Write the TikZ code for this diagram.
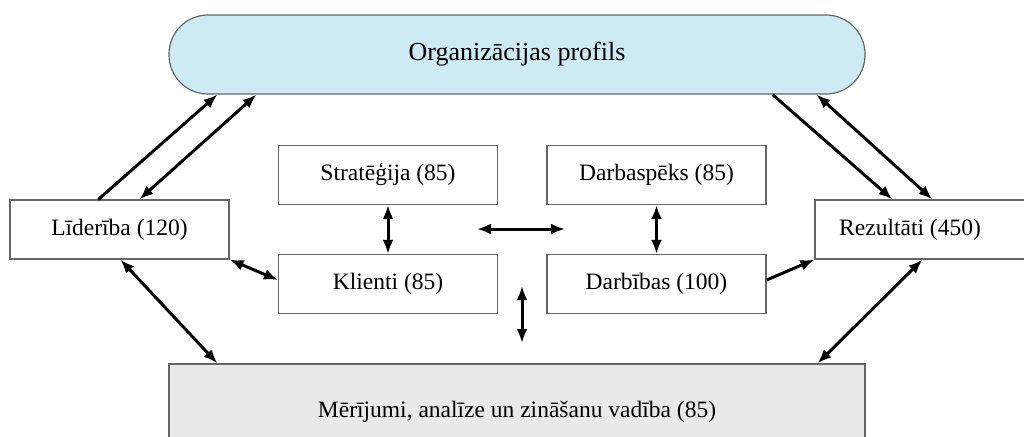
\documentclass[tikz,border=0pt]{standalone}
\usepackage{fontspec}
\setmainfont{Liberation Serif}
\usetikzlibrary{arrows.meta,positioning,calc}

\definecolor{profblue}{RGB}{206,234,245}
\definecolor{measgray}{RGB}{232,233,233}

\begin{document}
\begin{tikzpicture}[
  x=1pt, y=-1pt,
  box/.style={draw=black!60, line width=1.2pt, minimum width=219pt, minimum height=59pt,
              inner sep=0pt, font=\fontsize{23.5}{27}\selectfont},
  profile/.style={box, fill=profblue, rounded corners=39pt, minimum width=696pt, minimum height=79pt,
              font=\fontsize{26}{30}\selectfont},
  meas/.style={box, fill=measgray, minimum width=696pt, minimum height=96pt},
  arr/.style={-{Latex[length=14pt,width=11pt]}, line width=3pt},
  darr/.style={{Latex[length=14pt,width=11pt]}-{Latex[length=14pt,width=11pt]}, line width=3pt},
]
\useasboundingbox (0,0) rectangle (1024,436);

% ---------- Top and bottom bands ----------
\node[profile] (prof) at (517,54.5) {Organizācijas profils};
\node[meas] (meas) at (517,412) {Mērījumi, analīze un zināšanu vadība (85)};

% ---------- Side boxes ----------
\node[box] (lead) at (119.5,229.5) {Līderība (120)};
\node[box, minimum width=230pt] (res) at (930,229.5) {};
\node[font=\fontsize{23.5}{27}\selectfont] (restxt) at (910,229.5) {Rezultāti (450)};

% ---------- Centre boxes ----------
\node[box] (strat) at (388,175) {Stratēģija (85)};
\node[box] (cli) at (388,284) {Klienti (85)};
\node[box] (work) at (656.5,175) {Darbaspēks (85)};
\node[box] (ops) at (656.5,284) {Darbības (100)};

% free arrows in the middle
\coordinate (hl) at (477,229);
\coordinate (hr) at (565,229);
\coordinate (vt) at (522,286);
\coordinate (vb) at (522,343);

% ---------- Connectors ----------
\draw[arr] ([xshift=89pt]lead.north west) -- ([xshift=49pt]prof.south west);
\draw[darr] ([xshift=88pt]prof.south west) -- ([xshift=130pt]lead.north west);
\draw[arr] ([xshift=-93pt]prof.south east) -- ([xshift=78pt]res.north west);
\draw[darr] ([xshift=-49pt]prof.south east) -- ([xshift=118pt]res.north west);

\draw[darr] ([xshift=111pt]lead.south west) -- ([xshift=49pt]meas.north west);
\draw[darr] (lead.south east) -- ([yshift=4pt]cli.west);
\draw[arr] ([yshift=4pt]ops.east) -- (res.south west);
\draw[darr] ([xshift=108pt]res.south west) -- ([xshift=-48pt]meas.north east);

\draw[darr] (strat) -- (cli);
\draw[darr] (work) -- (ops);
\draw[darr] (hl) -- (hr);
\draw[darr] (vt) -- (vb);

\end{tikzpicture}
\end{document}
